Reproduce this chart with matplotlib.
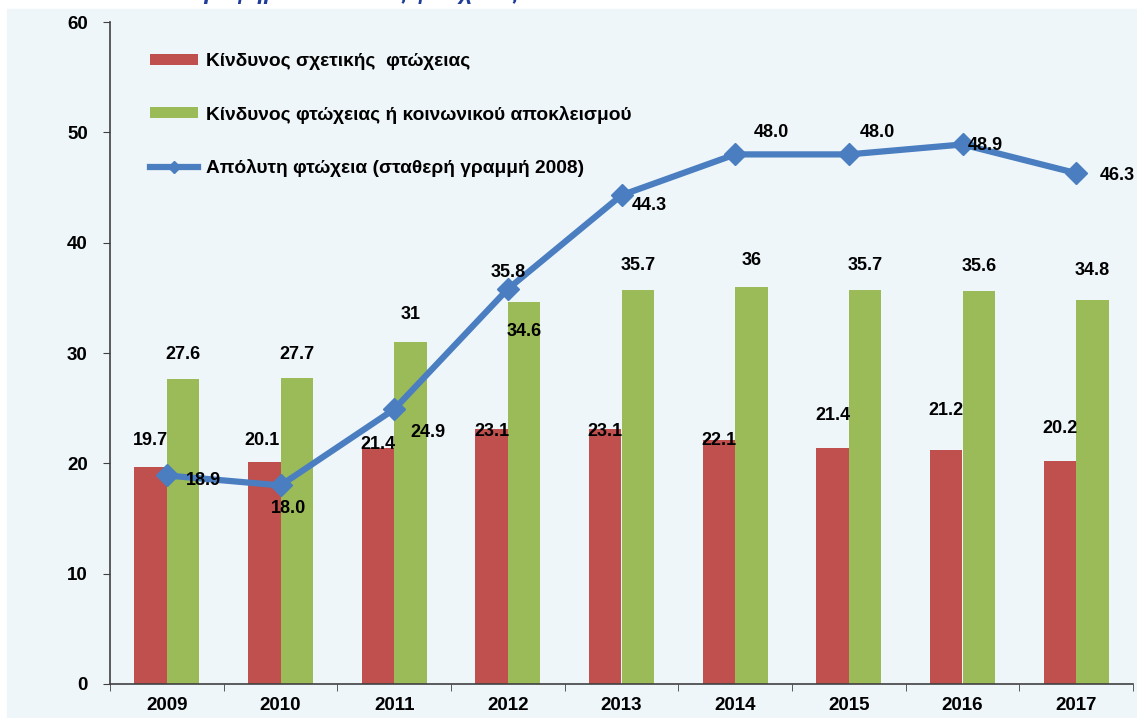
import matplotlib.pyplot as plt
import matplotlib.patches as mpatches
import numpy as np

plt.rcParams['font.family'] = ['Liberation Sans', 'DejaVu Sans']

# dados
anos = ['2009', '2010', '2011', '2012', '2013', '2014', '2015', '2016', '2017']
kindynos_sxetikis = [19.7, 20.1, 21.4, 23.1, 23.1, 22.1, 21.4, 21.2, 20.2]
kindynos_apokleismou = [27.6, 27.7, 31, 34.6, 35.7, 36, 35.7, 35.6, 34.8]
apolyti_ftoxeia = [18.9, 18.0, 24.9, 35.8, 44.3, 48.0, 48.0, 48.9, 46.3]

labels_vermelho = ['19.7', '20.1', '21.4', '23.1', '23.1', '22.1', '21.4', '21.2', '20.2']
labels_verde = ['27.6', '27.7', '31', '34.6', '35.7', '36', '35.7', '35.6', '34.8']
labels_linha = ['18.9', '18.0', '24.9', '35.8', '44.3', '48.0', '48.0', '48.9', '46.3']

# deslocamentos dos rótulos (pixels, relativos ao topo da barra / ponto)
off_vermelho = [(0, 26), (-2, 22), (0, 3), (0, -2), (0, -2), (0, 0), (0, 32), (0, 40), (0, 33)]
off_verde = [(0, 25), (0, 24), (0, 27), (0, -29), (0, 25), (0, 26), (0, 25), (0, 25), (0, 30)]
off_linha = [(37, -5), (8, -23), (34, -23), (0, 17), (28, -10), (36, 22), (29, 22), (23, -1), (41, -2)]

vermelho = '#C0504D'
verde = '#9BBB59'
azul = '#4A7EC0'
fundo = '#EEF6FA'

fig = plt.figure(figsize=(11.37, 7.18), dpi=100)
fig.patches.append(mpatches.Rectangle((7 / 1137, 0), 1, (718 - 9) / 718,
                                      transform=fig.transFigure, color=fundo, zorder=-10))

# título cortado no topo (só aparecem as descendentes)
fig.text(190 / 1137, 1.0 + 1 / 718, 'Γράφημα 1: Δείκτες φτώχειας', color='#1F3C99',
         fontsize=17, fontweight='bold', style='italic', va='baseline', ha='left')

ax = fig.add_axes([110 / 1137, 34 / 718, (1133 - 110) / 1137, (684 - 22) / 718])
ax.set_facecolor(fundo)

x = np.arange(len(anos))
w = 0.285

b1 = ax.bar(x - w / 2, kindynos_sxetikis, w, color=vermelho, label='Κίνδυνος σχετικής  φτώχειας', zorder=2)
b2 = ax.bar(x + w / 2, kindynos_apokleismou, w, color=verde, label='Κίνδυνος φτώχειας ή κοινωνικού αποκλεισμού', zorder=2)
l1, = ax.plot(x, apolyti_ftoxeia, '-D', color=azul, lw=4.5, markersize=11,
              label='Απόλυτη φτώχεια (σταθερή γραμμή 2008)', zorder=3)

fs = 13
for i in range(len(anos)):
    ax.annotate(labels_vermelho[i], (x[i] - w / 2, kindynos_sxetikis[i]), xytext=off_vermelho[i],
                textcoords='offset pixels', ha='center', va='center', fontsize=fs, fontweight='bold', zorder=5)
    ax.annotate(labels_verde[i], (x[i] + w / 2, kindynos_apokleismou[i]), xytext=off_verde[i],
                textcoords='offset pixels', ha='center', va='center', fontsize=fs, fontweight='bold', zorder=5)
    ax.annotate(labels_linha[i], (x[i], apolyti_ftoxeia[i]), xytext=off_linha[i],
                textcoords='offset pixels', ha='center', va='center', fontsize=fs, fontweight='bold', zorder=5)

ax.set_xlim(-0.5, len(anos) - 0.5)
ax.set_ylim(0, 60)
ax.set_yticks(range(0, 61, 10))
ax.set_xticks(x)
ax.set_xticklabels(anos, fontsize=13.5, fontweight='bold')
ax.set_xticks(np.arange(-0.5, len(anos)), minor=True)
ax.tick_params(axis='x', which='major', length=0, pad=9)
ax.tick_params(axis='x', which='minor', length=5, color='#404040')
ax.tick_params(axis='y', length=5, color='#404040', labelsize=13.5, pad=11)
for t in ax.get_yticklabels():
    t.set_fontweight('bold')

for s in ['top', 'right']:
    ax.spines[s].set_visible(False)
for s in ['left', 'bottom']:
    ax.spines[s].set_color('#404040')
    ax.spines[s].set_linewidth(1.2)

leg = ax.legend(handles=[b1, b2, l1], loc='upper left', bbox_to_anchor=(0.022, 0.979), frameon=False,
                fontsize=13.8, labelspacing=1.85, handlelength=2.5, handleheight=0.5,
                handletextpad=0.45, markerscale=0.6)
for t in leg.get_texts():
    t.set_fontweight('bold')

fig.savefig('out.png', dpi=100)
